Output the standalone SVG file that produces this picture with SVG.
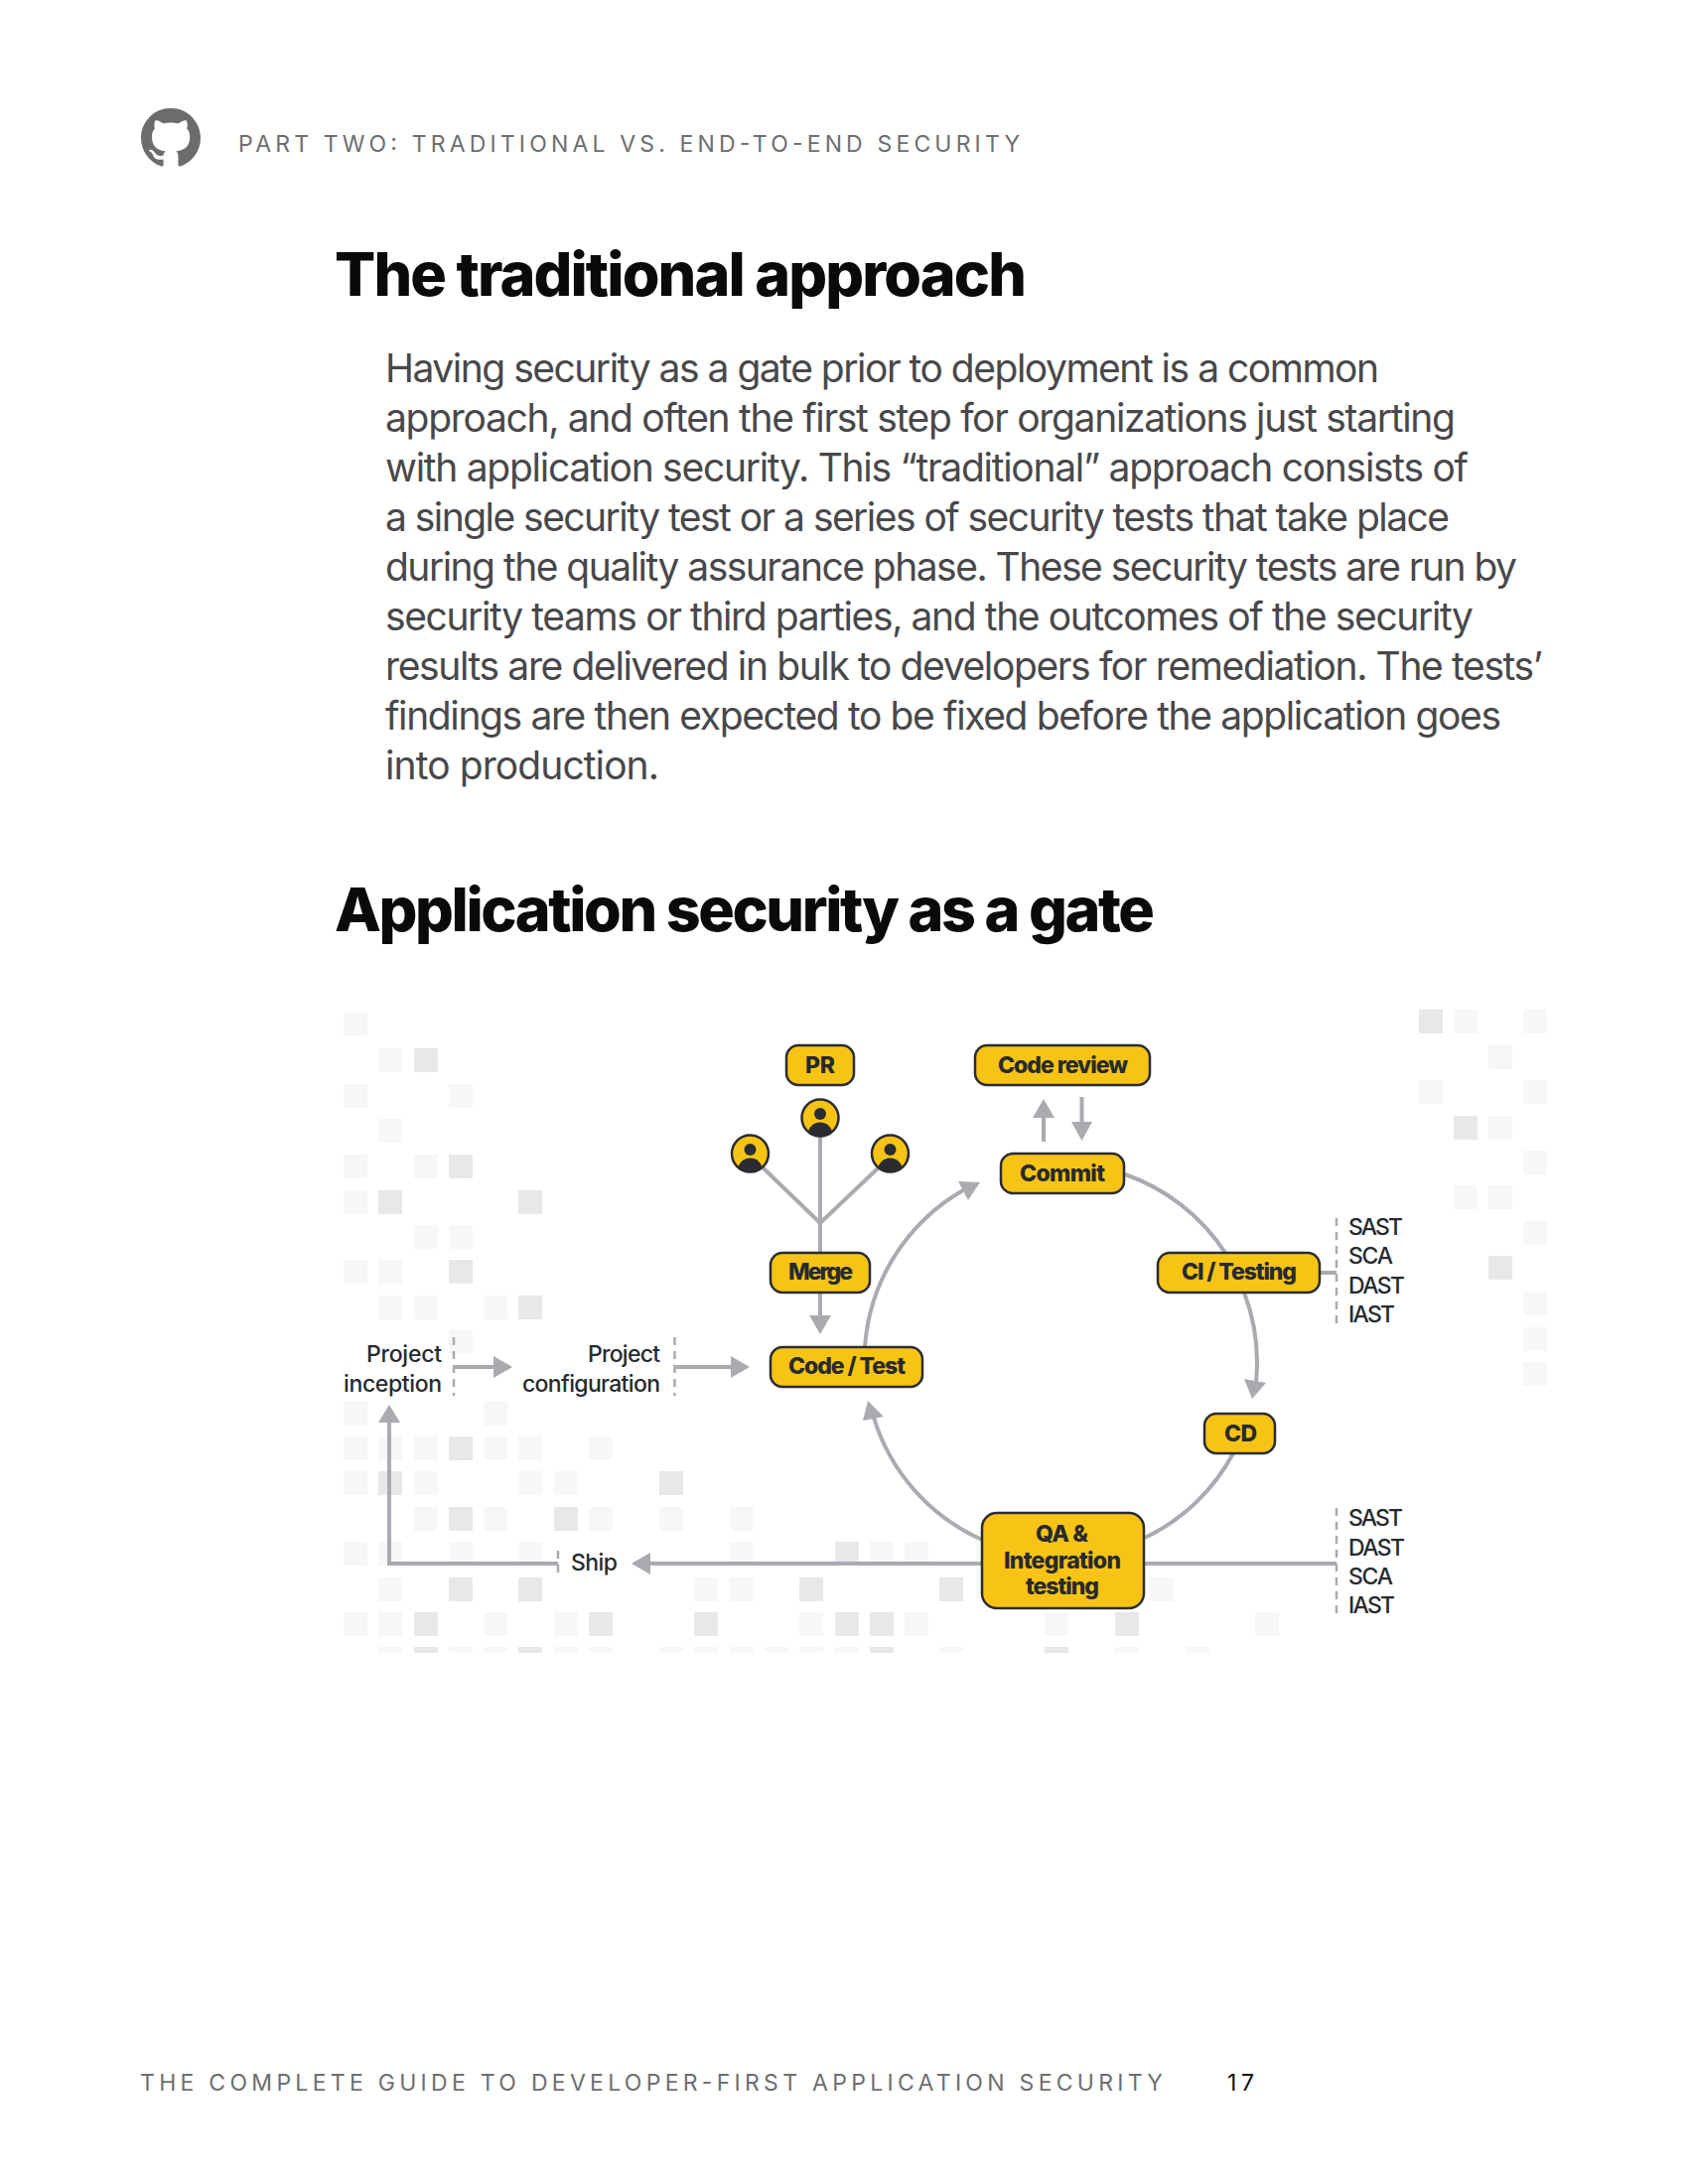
<svg xmlns="http://www.w3.org/2000/svg" width="1700" height="2200" viewBox="0 0 1700 2200">
<style>
text{font-family:Inter,"Liberation Sans",sans-serif}
.h1{font-size:61px;font-weight:800;fill:#0a0a0a}
.body{font-size:39px;font-weight:400;fill:#48484a}
.run{font-size:23px;font-weight:400;fill:#6d6e70}
.n{font-size:23px;font-weight:800;fill:#272a2e}
.l{font-size:23px;font-weight:500;fill:#272a2e}
.box{fill:#f7c416;stroke:#2a2c30;stroke-width:2.500}
.c{fill:none;stroke:#a9abb0;stroke-width:4}
.d{fill:none;stroke:#a9abb0;stroke-width:2.500;stroke-dasharray:8 6}
.a{fill:#a9abb0}
.g1{fill:#f7f7f8}
.g2{fill:#e7e8ea}
</style>
<defs>
<rect id="L" class="g1" width="24" height="24"/>
<rect id="D" class="g2" width="24" height="24"/>
<clipPath id="gc"><rect x="340" y="1010" width="1220" height="655"/></clipPath>
<clipPath id="av"><circle r="18"/></clipPath>
<g id="person"><circle r="18.500" fill="#f7c416" stroke="#2a2c30" stroke-width="2.500"/><circle cy="-4" r="6" fill="#2a2c30"/><g clip-path="url(#av)"><circle cy="17" r="12.500" fill="#2a2c30"/></g></g>
</defs>
<g id="background-grid" clip-path="url(#gc)">
<use href="#L" x="346" y="1020"/>
<use href="#L" x="381" y="1056"/><use href="#D" x="417" y="1056"/>
<use href="#L" x="346" y="1092"/><use href="#L" x="452" y="1092"/>
<use href="#L" x="381" y="1127"/>
<use href="#L" x="346" y="1163"/><use href="#L" x="417" y="1163"/><use href="#D" x="452" y="1163"/>
<use href="#L" x="346" y="1199"/><use href="#D" x="381" y="1199"/><use href="#D" x="522" y="1199"/>
<use href="#L" x="417" y="1234"/><use href="#L" x="452" y="1234"/>
<use href="#L" x="346" y="1269"/><use href="#L" x="381" y="1269"/><use href="#D" x="452" y="1269"/>
<use href="#L" x="381" y="1305"/><use href="#L" x="417" y="1305"/><use href="#L" x="487" y="1305"/><use href="#D" x="522" y="1305"/>
<use href="#L" x="452" y="1340"/>
<use href="#L" x="346" y="1412"/><use href="#L" x="487" y="1412"/>
<use href="#L" x="346" y="1447"/><use href="#L" x="381" y="1447"/><use href="#L" x="417" y="1447"/><use href="#D" x="452" y="1447"/><use href="#L" x="487" y="1447"/><use href="#L" x="522" y="1447"/><use href="#L" x="593" y="1447"/>
<use href="#L" x="346" y="1482"/><use href="#D" x="381" y="1482"/><use href="#L" x="417" y="1482"/><use href="#L" x="522" y="1482"/><use href="#L" x="558" y="1482"/><use href="#D" x="664" y="1482"/>
<use href="#L" x="417" y="1518"/><use href="#D" x="452" y="1518"/><use href="#L" x="487" y="1518"/><use href="#D" x="558" y="1518"/><use href="#L" x="593" y="1518"/><use href="#L" x="664" y="1518"/><use href="#L" x="735" y="1518"/>
<use href="#L" x="346" y="1553"/><use href="#L" x="381" y="1553"/><use href="#L" x="452" y="1553"/><use href="#L" x="522" y="1553"/><use href="#L" x="735" y="1553"/><use href="#D" x="841" y="1553"/><use href="#L" x="876" y="1553"/><use href="#L" x="911" y="1553"/>
<use href="#L" x="381" y="1589"/><use href="#D" x="452" y="1589"/><use href="#D" x="522" y="1589"/><use href="#L" x="699" y="1589"/><use href="#L" x="735" y="1589"/><use href="#D" x="805" y="1589"/><use href="#D" x="946" y="1589"/><use href="#L" x="1158" y="1589"/>
<use href="#L" x="346" y="1624"/><use href="#L" x="381" y="1624"/><use href="#D" x="417" y="1624"/><use href="#L" x="487" y="1624"/><use href="#L" x="558" y="1624"/><use href="#D" x="593" y="1624"/><use href="#D" x="699" y="1624"/><use href="#L" x="805" y="1624"/><use href="#D" x="841" y="1624"/><use href="#D" x="876" y="1624"/><use href="#L" x="911" y="1624"/><use href="#L" x="1052" y="1624"/><use href="#D" x="1123" y="1624"/><use href="#L" x="1264" y="1624"/>
<use href="#L" x="381" y="1659"/><use href="#D" x="417" y="1659"/><use href="#L" x="452" y="1659"/><use href="#L" x="487" y="1659"/><use href="#D" x="522" y="1659"/><use href="#L" x="558" y="1659"/><use href="#L" x="593" y="1659"/><use href="#L" x="664" y="1659"/><use href="#L" x="699" y="1659"/><use href="#L" x="735" y="1659"/><use href="#L" x="770" y="1659"/><use href="#L" x="805" y="1659"/><use href="#L" x="841" y="1659"/><use href="#D" x="876" y="1659"/><use href="#L" x="946" y="1659"/><use href="#D" x="1052" y="1659"/><use href="#L" x="1123" y="1659"/><use href="#L" x="1194" y="1659"/>
<use href="#D" x="1429" y="1017"/><use href="#L" x="1464" y="1017"/><use href="#L" x="1534" y="1017"/>
<use href="#L" x="1499" y="1053"/>
<use href="#L" x="1429" y="1088"/><use href="#L" x="1534" y="1088"/>
<use href="#D" x="1464" y="1124"/><use href="#L" x="1499" y="1124"/>
<use href="#L" x="1534" y="1159"/>
<use href="#L" x="1464" y="1194"/><use href="#L" x="1499" y="1194"/>
<use href="#L" x="1534" y="1230"/>
<use href="#D" x="1499" y="1265"/>
<use href="#L" x="1534" y="1301"/>
<use href="#L" x="1534" y="1337"/>
<use href="#L" x="1534" y="1372"/>
</g>
<g id="page-text">
<path id="github-logo" transform="translate(142 109) scale(3.750)" fill="#6d6b6d" d="M8 0C3.58 0 0 3.58 0 8c0 3.54 2.29 6.53 5.47 7.59.4.07.55-.17.55-.38 0-.19-.01-.82-.01-1.49-2.01.37-2.53-.49-2.69-.94-.09-.23-.48-.94-.82-1.13-.28-.15-.68-.52-.01-.53.63-.01 1.08.58 1.23.82.72 1.21 1.87.87 2.33.66.07-.52.28-.87.51-1.07-1.78-.2-3.64-.89-3.64-3.95 0-.87.31-1.59.82-2.15-.08-.2-.36-1.02.08-2.12 0 0 .67-.21 2.2.82.64-.18 1.32-.27 2-.27.68 0 1.36.09 2 .27 1.53-1.04 2.2-.82 2.2-.82.44 1.1.16 1.92.08 2.12.51.56.82 1.27.82 2.15 0 3.07-1.87 3.75-3.65 3.95.29.25.54.73.54 1.48 0 1.07-.01 1.93-.01 2.2 0 .21.15.46.55.38A8.013 8.013 0 0016 8c0-4.42-3.58-8-8-8z"/>
<text class="run" x="240" y="153" textLength="787">PART TWO: TRADITIONAL VS. END-TO-END SECURITY</text>
<text class="h1" x="337" y="298" textLength="697">The traditional approach</text>
<text class="body" x="388" y="385" textLength="1001">Having security as a gate prior to deployment is a common</text>
<text class="body" x="388" y="435" textLength="1078">approach, and often the first step for organizations just starting</text>
<text class="body" x="388" y="485" textLength="1091">with application security. This “traditional” approach consists of</text>
<text class="body" x="388" y="535" textLength="1072">a single security test or a series of security tests that take place</text>
<text class="body" x="388" y="585" textLength="1140">during the quality assurance phase. These security tests are run by</text>
<text class="body" x="388" y="635" textLength="1096">security teams or third parties, and the outcomes of the security</text>
<text class="body" x="388" y="685" textLength="1166">results are delivered in bulk to developers for remediation. The tests’</text>
<text class="body" x="388" y="735" textLength="1124">findings are then expected to be fixed before the application goes</text>
<text class="body" x="388" y="785" textLength="276">into production.</text>
<text class="h1" x="337" y="938" textLength="826">Application security as a gate</text>
<text class="run" x="141" y="2106" textLength="1030">THE COMPLETE GUIDE TO DEVELOPER-FIRST APPLICATION SECURITY</text>
<text class="run" x="1236" y="2106" textLength="27" style="fill:#111">17</text>
</g>
<g id="connectors">
<path class="c" d="M826 1145V1262M768 1176L826 1232L885 1176M826 1302V1326"/>
<path class="a" d="M815 1325H837L826 1344Z"/>
<path class="c" d="M1051 1150V1125M1089.500 1105V1131"/>
<path class="a" d="M1040 1126H1062L1051 1107ZM1079 1130H1100L1089.500 1149Z"/>
<path class="c" d="M871 1357A198 198 0 0 1 970 1199"/>
<path class="a" d="M987 1191L965 1190L975 1209Z"/>
<path class="c" d="M1133 1183A198 198 0 0 1 1234 1262M1253 1302A198 198 0 0 1 1265 1392"/>
<path class="a" d="M1261 1409L1253 1389L1275 1393Z"/>
<path class="c" d="M1242 1464A198 198 0 0 1 1153 1549"/>
<path class="c" d="M989 1551A198 198 0 0 1 880 1428"/>
<path class="a" d="M874 1411L869 1431L890 1427Z"/>
<path class="c" d="M1152 1575H1346M989 1575H655M562 1575H392V1432M457 1377H498M680 1377H737M1329 1282H1346"/>
<path class="a" d="M636 1575L655 1564V1586ZM392 1415L381 1433H403ZM516 1377L497 1366V1388ZM755 1377L736 1366V1388Z"/>
<path class="d" d="M457 1347V1406M679.500 1347V1406M562 1562V1588M1346 1227V1337M1346 1519V1630"/>
</g>
<g id="node-pr"><rect class="box" x="792" y="1053" width="68" height="40" rx="12"/><text class="n" x="811" y="1081" textLength="30">PR</text></g>
<g id="node-code-review"><rect class="box" x="982" y="1053" width="176" height="40" rx="12"/><text class="n" x="1005" y="1081" textLength="131">Code review</text></g>
<g id="node-commit"><rect class="box" x="1008" y="1162" width="124" height="40" rx="12"/><text class="n" x="1027" y="1190" textLength="86">Commit</text></g>
<g id="node-merge"><rect class="box" x="776" y="1262" width="100" height="40" rx="12"/><text class="n" x="794" y="1289" textLength="65">Merge</text></g>
<g id="node-ci"><rect class="box" x="1166" y="1262" width="163" height="40" rx="12"/><text class="n" x="1190" y="1289" textLength="116">CI / Testing</text></g>
<g id="node-code-test"><rect class="box" x="776" y="1357" width="153" height="40" rx="12"/><text class="n" x="794" y="1384" textLength="118">Code / Test</text></g>
<g id="node-cd"><rect class="box" x="1213" y="1424" width="71" height="40" rx="12"/><text class="n" x="1233" y="1452" textLength="33">CD</text></g>
<g id="node-qa"><rect class="box" x="989" y="1524" width="163" height="96" rx="15"/><text class="n" x="1043" y="1553" textLength="53">QA &amp;</text><text class="n" x="1011" y="1580" textLength="118">Integration</text><text class="n" x="1033" y="1606" textLength="74">testing</text></g>
<g id="avatar-1"><use href="#person" x="755.500" y="1162"/></g>
<g id="avatar-2"><use href="#person" x="826" y="1126"/></g>
<g id="avatar-3"><use href="#person" x="896.500" y="1162"/></g>
<g id="label-inception"><text class="l" x="369" y="1372" textLength="76">Project</text><text class="l" x="346" y="1402" textLength="99">inception</text></g>
<g id="label-configuration"><text class="l" x="592" y="1372" textLength="73">Project</text><text class="l" x="526" y="1402" textLength="139">configuration</text></g>
<g id="label-ship"><text class="l" x="575" y="1582" textLength="47">Ship</text></g>
<g id="tests-ci"><text class="l" x="1358" y="1244" textLength="55">SAST</text><text class="l" x="1358" y="1273" textLength="45">SCA</text><text class="l" x="1358" y="1303" textLength="57">DAST</text><text class="l" x="1358" y="1332" textLength="47">IAST</text></g>
<g id="tests-qa"><text class="l" x="1358" y="1537" textLength="55">SAST</text><text class="l" x="1358" y="1567" textLength="57">DAST</text><text class="l" x="1358" y="1596" textLength="45">SCA</text><text class="l" x="1358" y="1625" textLength="47">IAST</text></g>
</svg>
